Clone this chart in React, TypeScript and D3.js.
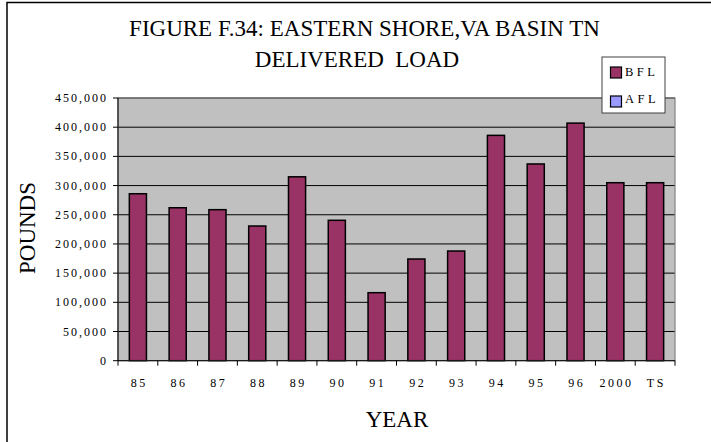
import React from "react";
import * as d3 from "d3";

const categories = ["85", "86", "87", "88", "89", "90", "91", "92", "93", "94", "95", "96", "2000", "TS"];
const bflValues = [286000, 262000, 258700, 230700, 315000, 240500, 116500, 174200, 187900, 386000, 337000, 407000, 304900, 304900];
const yTicks = [0, 50000, 100000, 150000, 200000, 250000, 300000, 350000, 400000, 450000];
const legendItems = [
  { name: "BFL", color: "#993366" },
  { name: "AFL", color: "#9999FF" },
];

const W = 711;
const H = 442;
const plot = { left: 118, right: 675, top: 98, bottom: 360.7 };
const FONT = "Liberation Serif";

export default function App() {
  const x = d3.scaleBand<string>().domain(categories).range([plot.left, plot.right]).paddingInner(0).paddingOuter(0);
  const y = d3.scaleLinear().domain([0, 450000]).range([plot.bottom, plot.top]);
  const step = x.step();
  const barW = step * 0.43;
  const fmt = d3.format(",");
  const ts = { fontFamily: FONT };

  return (
    <svg
      width={W}
      height={H}
      viewBox={`0 0 ${W} ${H}`}
      style={{ position: "absolute", left: 0, top: 0, background: "#fff", fontFamily: FONT }}
    >
      {/* outer chart border (cropped on right/bottom) */}
      <rect x={7} y={2.5} width={W + 20} height={H + 20} fill="#fff" stroke="#000" strokeWidth={1.5} />

      {/* title */}
      <text x={364.5} y={36} fontSize={23} textAnchor="middle" fill="#000" style={ts}>
        FIGURE F.34: EASTERN SHORE,VA BASIN TN
      </text>
      <text x={357} y={67} fontSize={23} textAnchor="middle" fill="#000" style={{ ...ts, whiteSpace: "pre" }}>
        {"DELIVERED  LOAD"}
      </text>

      {/* plot area */}
      <rect x={plot.left} y={plot.top} width={plot.right - plot.left} height={plot.bottom - plot.top} fill="#C0C0C0" />
      {yTicks.slice(1).map((t) => (
        <line key={t} x1={plot.left} x2={plot.right} y1={y(t)} y2={y(t)} stroke="#000" strokeWidth={1} />
      ))}

      {/* bars */}
      {categories.map((c, i) => {
        const cx = (x(c) as number) + step / 2;
        return (
          <rect
            key={c}
            x={cx - barW / 2}
            y={y(bflValues[i])}
            width={barW}
            height={plot.bottom - y(bflValues[i])}
            fill="#993366"
            stroke="#000"
            strokeWidth={1.5}
          />
        );
      })}

      {/* plot border */}
      <rect
        x={plot.left}
        y={plot.top}
        width={plot.right - plot.left}
        height={plot.bottom - plot.top}
        fill="none"
        stroke="#808080"
        strokeWidth={1.2}
      />

      {/* y axis */}
      <line x1={plot.left} x2={plot.left} y1={plot.top} y2={plot.bottom} stroke="#000" strokeWidth={1} />
      {yTicks.map((t) => (
        <g key={t}>
          <line x1={plot.left - 5} x2={plot.left} y1={y(t)} y2={y(t)} stroke="#000" strokeWidth={1} />
          <text x={108} y={y(t) + 4} fontSize={12} textAnchor="end" fill="#000" style={{ ...ts, letterSpacing: "2px" }}>
            {fmt(t)}
          </text>
        </g>
      ))}

      {/* x axis */}
      <line x1={plot.left} x2={plot.right} y1={plot.bottom} y2={plot.bottom} stroke="#000" strokeWidth={1} />
      {categories.map((c) => (
        <line
          key={"t" + c}
          x1={x(c) as number}
          x2={x(c) as number}
          y1={plot.bottom}
          y2={plot.bottom + 5}
          stroke="#000"
          strokeWidth={1}
        />
      ))}
      <line x1={plot.right} x2={plot.right} y1={plot.bottom} y2={plot.bottom + 5} stroke="#000" strokeWidth={1} />
      {categories.map((c) => (
        <text
          key={"l" + c}
          x={(x(c) as number) + step / 2 + 1.25}
          y={387}
          fontSize={12}
          textAnchor="middle"
          fill="#000"
          style={{ ...ts, letterSpacing: "2.5px" }}
        >
          {c}
        </text>
      ))}

      {/* axis titles */}
      <text x={397} y={427} fontSize={23} textAnchor="middle" fill="#000" style={ts}>
        YEAR
      </text>
      <text transform={`translate(35,228) rotate(-90)`} fontSize={23} textAnchor="middle" fill="#000" style={ts}>
        POUNDS
      </text>

      {/* legend */}
      <rect x={602} y={57} width={63} height={56} fill="#fff" stroke="#404040" strokeWidth={1} />
      {legendItems.map((d, i) => (
        <g key={d.name}>
          <rect x={610.5} y={67 + i * 29} width={11} height={11} fill={d.color} stroke="#000" strokeWidth={1.2} />
          <text x={625} y={76 + i * 26.5} fontSize={12.5} fill="#000" style={{ ...ts, letterSpacing: "3.5px" }}>
            {d.name}
          </text>
        </g>
      ))}
    </svg>
  );
}
